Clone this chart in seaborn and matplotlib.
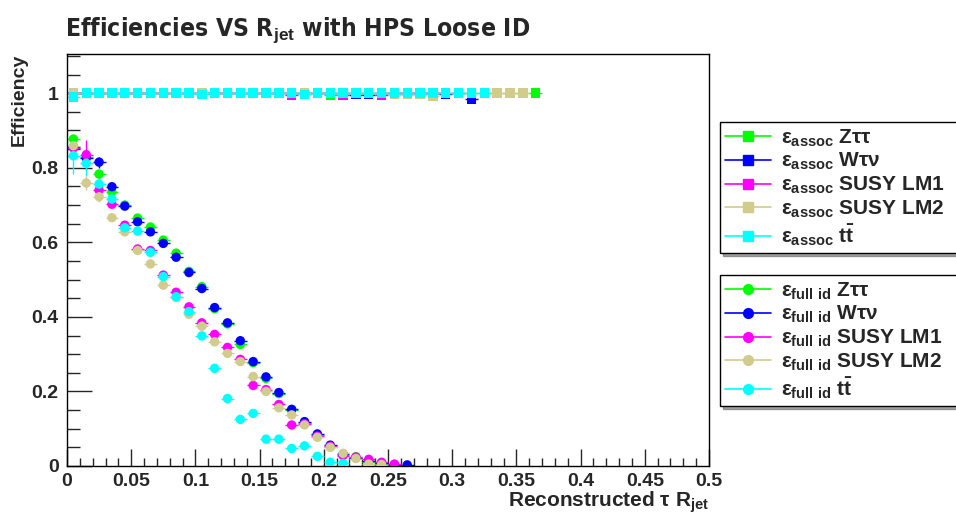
import numpy as np
import pandas as pd
import matplotlib
matplotlib.use("Agg")
import matplotlib.pyplot as plt
from matplotlib import font_manager
from matplotlib.font_manager import FontProperties
from matplotlib.lines import Line2D
from matplotlib.ticker import MultipleLocator, FuncFormatter
import seaborn as sns

# ---------------------------------------------------------------- data
samples = ["Ztautau", "Wtaunu", "LM1", "LM2", "ttbar"]
sample_colors = ["#00ff00", "#0000ff", "#ff00ff", "#d2cb8e", "#00ffff"]
bin_width = 0.01  # R_jet histogram bin width

# association efficiency (bins of R_jet, starting at 0)
assoc_ztautau = [1.000, 1.000, 1.000, 1.000, 1.000, 1.000, 1.000, 1.000, 1.000, 1.000,
                 1.000, 1.000, 1.000, 1.000, 1.000, 1.000, 1.000, 1.000, 1.000, 1.000,
                 0.995, 1.000, 1.000, 1.000, 1.000, 1.000, 1.000, 1.000, 1.000, 1.000,
                 1.000, 1.000, 1.000, 1.000, 1.000, 1.000, 1.000]
assoc_wtaunu = [1.000, 1.000, 1.000, 1.000, 1.000, 1.000, 1.000, 1.000, 1.000, 1.000,
                1.000, 1.000, 1.000, 1.000, 1.000, 1.000, 1.000, 1.000, 1.000, 1.000,
                1.000, 1.000, 0.996, 0.996, 1.000, 1.000, 1.000, 1.000, 1.000, 0.998,
                1.000, 0.983]
assoc_lm1 = [1.000, 1.000, 1.000, 1.000, 1.000, 1.000, 1.000, 1.000, 1.000, 1.000,
             1.000, 1.000, 1.000, 1.000, 1.000, 1.000, 1.000, 0.995, 1.000, 1.000,
             1.000, 0.995, 1.000, 1.000, 0.995, 1.000, 1.000, 1.000, 1.000, 1.000]
assoc_lm2 = [1.000, 1.000, 1.000, 1.000, 1.000, 1.000, 1.000, 1.000, 1.000, 1.000,
             1.000, 1.000, 1.000, 1.000, 1.000, 1.000, 1.000, 1.000, 1.000, 1.000,
             1.000, 1.000, 1.000, 1.000, 1.000, 0.996, 0.996, 0.996, 0.992, 1.000,
             1.000, 1.000, 1.000, 1.000, 1.000, 1.000]
assoc_ttbar = [0.990, 1.000, 1.000, 1.000, 1.000, 1.000, 1.000, 1.000, 1.000, 1.000,
               0.997, 1.000, 1.000, 1.000, 1.000, 1.000, 1.000, 1.000, 0.997, 1.000,
               1.000, 1.000, 1.000, 1.000, 1.000, 1.000, 1.000, 1.000, 1.000, 1.000,
               1.000, 1.000, 1.000]

# full identification efficiency
full_ztautau = [0.877, 0.830, 0.783, 0.735, 0.700, 0.665, 0.641, 0.606, 0.571, 0.522,
                0.481, 0.422, 0.381, 0.326, 0.277, 0.235, 0.194, 0.150, 0.115, 0.083,
                0.052, 0.030, 0.025, 0.012, 0.006]
full_wtaunu = [0.855, 0.826, 0.815, 0.749, 0.697, 0.655, 0.628, 0.597, 0.560, 0.519,
               0.476, 0.425, 0.384, 0.336, 0.280, 0.239, 0.197, 0.152, 0.119, 0.086,
               0.056, 0.032, 0.022, 0.013, 0.008, 0.004, 0.003]
full_lm1 = [0.853, 0.835, 0.740, 0.702, 0.646, 0.582, 0.578, 0.512, 0.466, 0.427,
            0.384, 0.353, 0.318, 0.286, 0.216, 0.205, 0.165, 0.110, 0.113, 0.080,
            0.053, 0.028, 0.024, 0.018, 0.010, 0.005]
full_lm2 = [0.859, 0.759, 0.722, 0.666, 0.628, 0.578, 0.542, 0.485, 0.452, 0.407,
            0.375, 0.333, 0.302, 0.280, 0.240, 0.200, 0.156, 0.137, 0.110, 0.077,
            0.050, 0.034, 0.020, 0.005, 0.004]
full_ttbar = [0.832, 0.812, 0.756, 0.716, 0.639, 0.630, 0.573, 0.508, 0.454, 0.414,
              0.349, 0.262, 0.181, 0.125, 0.141, 0.072, 0.072, 0.047, 0.054, 0.026,
              0.010, 0.007]

# statistical uncertainties on the lowest R_jet bins (full id)
full_err_ztautau = [0.012, 0.015, 0.012]
full_err_wtaunu = [0.020, 0.020, 0.015]
full_err_lm1 = [0.020, 0.040, 0.020]
full_err_lm2 = [0.020, 0.020, 0.015]
full_err_ttbar = [0.050, 0.035, 0.020]
assoc_err_wtaunu_last = 0.008

process_labels = [r"Z$\tau\tau$", r"W$\tau\nu$", "SUSY LM1", "SUSY LM2", r"$\mathbf{t\bar{t}}$"]

assoc_values = [assoc_ztautau, assoc_wtaunu, assoc_lm1, assoc_lm2, assoc_ttbar]
full_values = [full_ztautau, full_wtaunu, full_lm1, full_lm2, full_ttbar]
full_errors = [full_err_ztautau, full_err_wtaunu, full_err_lm1, full_err_lm2, full_err_ttbar]


def long_table(values_list, errors_list=None):
    rows = []
    for k, (name, vals) in enumerate(zip(samples, values_list)):
        errs = errors_list[k] if errors_list is not None else []
        for i, v in enumerate(vals):
            rows.append({"rjet": (i + 0.5) * bin_width, "eff": v, "sample": name,
                         "err": errs[i] if i < len(errs) else 0.0})
    return pd.DataFrame(rows)


assoc_df = long_table(assoc_values)
w_last = assoc_df[assoc_df["sample"] == "Wtaunu"].index.max()
assoc_df.loc[w_last, "err"] = assoc_err_wtaunu_last
full_df = long_table(full_values, full_errors)

# ---------------------------------------------------------------- style
sns.set_theme(style="white")
plt.rcParams["font.family"] = ["Liberation Sans", "DejaVu Sans"]
plt.rcParams["font.weight"] = "bold"
plt.rcParams["mathtext.fontset"] = "custom"
plt.rcParams["mathtext.rm"] = "Liberation Sans:bold"
plt.rcParams["mathtext.bf"] = "Liberation Sans:bold"
plt.rcParams["mathtext.it"] = "Liberation Sans"
plt.rcParams["mathtext.sf"] = "Liberation Sans:bold"
plt.rcParams["mathtext.fallback"] = "stixsans"

STRETCH = {"ultra-condensed": 100, "extra-condensed": 200, "condensed": 300,
           "semi-condensed": 400, "normal": 500}


def stretch_value(f):
    s = f.stretch
    if isinstance(s, (int, float)):
        return s
    s = str(s).lower()
    if s in STRETCH:
        return STRETCH[s]
    name = f.name.lower()
    if "extracondensed" in name or "extra condensed" in name:
        return 200
    if "semicondensed" in name or "semi condensed" in name:
        return 400
    if "condensed" in name or "narrow" in name:
        return 300
    return 500


def weight_value(f):
    w = f.weight
    if isinstance(w, (int, float)):
        return w
    return 700 if "bold" in str(w).lower() else 400


def condensed_bold_font():
    """Most condensed bold face among the installed fonts (not ultra-condensed)."""
    cands = [f for f in font_manager.fontManager.ttflist
             if 200 <= stretch_value(f) < 500 and 600 <= weight_value(f) <= 800
             and "italic" not in str(f.style).lower()]
    if not cands:
        return None
    cands.sort(key=lambda f: (stretch_value(f), abs(weight_value(f) - 700)))
    return FontProperties(fname=cands[0].fname)


title_font = condensed_bold_font()
if title_font is None:
    title_font = FontProperties(family="Liberation Sans", weight="bold")
title_font.set_size(22)
title_width_px = 465  # width of the title line

palette = dict(zip(samples, sample_colors))

fig = plt.figure(figsize=(9.56, 5.15), dpi=100)
ax = fig.add_axes([67 / 956, 49 / 515, 642 / 956, 412 / 515])

# error bars first, markers on top
for df in (assoc_df, full_df):
    for name in samples:
        sub = df[df["sample"] == name]
        ax.errorbar(sub["rjet"], sub["eff"], xerr=bin_width / 2, yerr=sub["err"],
                    fmt="none", ecolor=palette[name], elinewidth=1.0, capsize=0, zorder=2)

sns.scatterplot(data=assoc_df, x="rjet", y="eff", hue="sample", hue_order=samples,
                palette=palette, marker="s", s=46, linewidth=0, legend=False, ax=ax, zorder=3)
sns.scatterplot(data=full_df, x="rjet", y="eff", hue="sample", hue_order=samples,
                palette=palette, marker="o", s=46, linewidth=0, legend=False, ax=ax, zorder=3)

# ---------------------------------------------------------------- axes
ax.set_xlim(0, 0.5)
ax.set_ylim(0, 1.105)
ax.xaxis.set_major_locator(MultipleLocator(0.05))
ax.xaxis.set_minor_locator(MultipleLocator(0.01))
ax.yaxis.set_major_locator(MultipleLocator(0.2))
ax.yaxis.set_minor_locator(MultipleLocator(0.05))
fmt = FuncFormatter(lambda v, p: f"{v:g}")
ax.xaxis.set_major_formatter(fmt)
ax.yaxis.set_major_formatter(fmt)
ax.tick_params(axis="x", which="major", direction="in", length=12, width=1, labelsize=14, pad=5, bottom=True)
ax.tick_params(axis="x", which="minor", direction="in", length=6, width=1, bottom=True)
ax.tick_params(axis="y", which="major", direction="in", length=18, width=1, labelsize=14, pad=6, left=True)
ax.tick_params(axis="y", which="minor", direction="in", length=9, width=1, left=True)
for lab in ax.get_xticklabels() + ax.get_yticklabels():
    lab.set_fontweight("bold")
for sp in ax.spines.values():
    sp.set_color("black")
    sp.set_linewidth(1.0)
ax.set_xlabel(r"Reconstructed $\tau$ R$_{\mathbf{jet}}$", fontsize=15, fontweight="bold",
              loc="right", labelpad=0)
ax.set_ylabel("Efficiency", fontsize=14, fontweight="bold", loc="top", labelpad=3)

title = fig.text(65 / 956, 1 - 36 / 515, r"Efficiencies VS R$_{\mathbf{jet}}$ with HPS Loose ID",
                 fontproperties=title_font, ha="left", va="baseline")
# shrink the title font until the line has the wanted width
renderer = fig.canvas.get_renderer()
w = title.get_window_extent(renderer).width
if w > title_width_px:
    title_font.set_size(22 * title_width_px / w)
    title.set_fontproperties(title_font)

# ---------------------------------------------------------------- legends
def make_legend(tag, marker, top_px):
    handles = [Line2D([], [], color=c, lw=1.2, marker=marker, markersize=7) for c in sample_colors]
    labels = [r"$\varepsilon_{\mathbf{%s}}$ " % tag + p for p in process_labels]
    leg = fig.legend(handles, labels, loc="upper left",
                     bbox_to_anchor=(720 / 956, 1 - top_px / 515, 260 / 956, 0),
                     mode="expand", borderaxespad=0, fontsize=15, frameon=True,
                     fancybox=False, shadow=True, edgecolor="black", framealpha=1,
                     handlelength=2.2, handletextpad=0.5, labelspacing=0.12,
                     borderpad=0.25)
    leg.get_frame().set_linewidth(1.0)
    for t in leg.get_texts():
        t.set_fontweight("bold")
    return leg

make_legend("assoc", "s", 122)
make_legend(r"full\ id", "o", 275)

fig.savefig("out.png", dpi=100)
